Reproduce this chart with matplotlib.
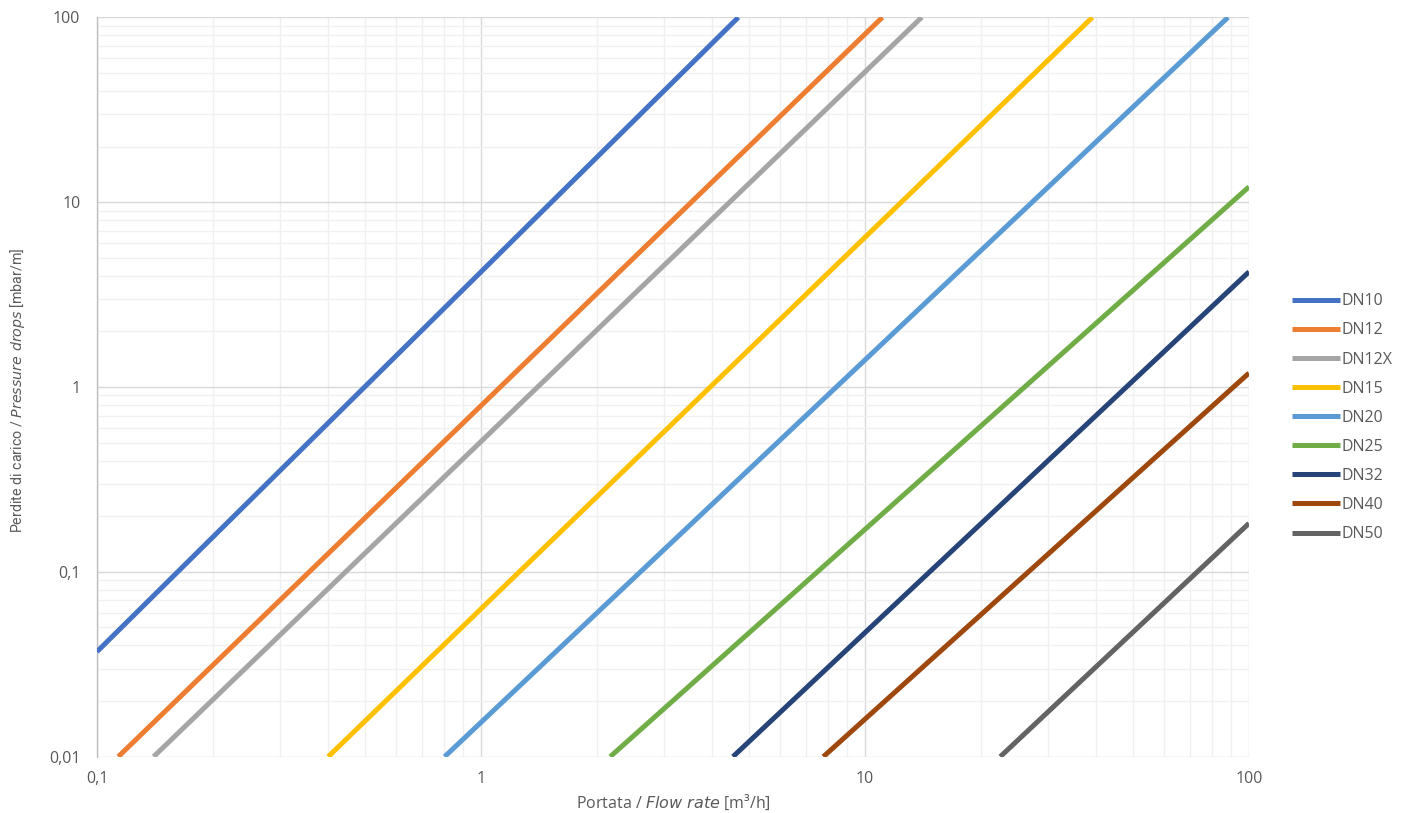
import matplotlib
matplotlib.use("Agg")
import matplotlib.pyplot as plt
from matplotlib import font_manager
from matplotlib.ticker import LogLocator, FixedLocator, NullFormatter

# --- DATA (points where each line enters/leaves the plot) ---
series_names = ["DN10", "DN12", "DN12X", "DN15", "DN20", "DN25", "DN32", "DN40", "DN50"]

flow_dn10 = [0.1, 4.68]
dp_dn10 = [0.037, 100]
flow_dn12 = [0.1136, 11.1]
dp_dn12 = [0.01, 100]
flow_dn12x = [0.1404, 14.05]
dp_dn12x = [0.01, 100]
flow_dn15 = [0.400, 39.1]
dp_dn15 = [0.01, 100]
flow_dn20 = [0.804, 88.2]
dp_dn20 = [0.01, 100]
flow_dn25 = [2.17, 100]
dp_dn25 = [0.01, 12.1]
flow_dn32 = [4.53, 100]
dp_dn32 = [0.01, 4.2]
flow_dn40 = [7.79, 100]
dp_dn40 = [0.01, 1.19]
flow_dn50 = [22.5, 100]
dp_dn50 = [0.01, 0.183]

x_ticks = [0.1, 1, 10, 100]
x_ticklabels = ["0,1", "1", "10", "100"]
y_ticks = [0.01, 0.1, 1, 10, 100]
y_ticklabels = ["0,01", "0,1", "1", "10", "100"]

colors = ["#4472C4", "#ED7D31", "#A5A5A5", "#FFC000", "#5B9BD5",
          "#70AD47", "#264478", "#9E480E", "#636363"]

flows = [flow_dn10, flow_dn12, flow_dn12x, flow_dn15, flow_dn20,
         flow_dn25, flow_dn32, flow_dn40, flow_dn50]
drops = [dp_dn10, dp_dn12, dp_dn12x, dp_dn15, dp_dn20,
         dp_dn25, dp_dn32, dp_dn40, dp_dn50]

# fonts
installed = {f.name for f in font_manager.fontManager.ttflist}
base_font = "Open Sans" if "Open Sans" in installed else "DejaVu Sans"
if "Liberation Sans Narrow" in installed:
    narrow_font = "Liberation Sans Narrow"
elif "Roboto" in installed:
    narrow_font = "Roboto"
else:
    narrow_font = base_font
plt.rcParams["font.family"] = [base_font, "DejaVu Sans"]

text_col = "#595959"

fig = plt.figure(figsize=(14.08, 8.13), dpi=100)
ax = fig.add_axes([97 / 1408, 1 - 756.7 / 813, (1249 - 97) / 1408, (756.7 - 17.3) / 813])

for name, q, dp, c in zip(series_names, flows, drops, colors):
    ax.plot(q, dp, color=c, lw=3.6, label=name, solid_capstyle="butt", zorder=3)

ax.set_xscale("log")
ax.set_yscale("log")
ax.set_xlim(0.1, 100)
ax.set_ylim(0.01, 100)

ax.xaxis.set_major_locator(FixedLocator(x_ticks))
ax.set_xticklabels(x_ticklabels)
ax.yaxis.set_major_locator(FixedLocator(y_ticks))
ax.set_yticklabels(y_ticklabels)
ax.xaxis.set_minor_locator(LogLocator(base=10, subs=range(2, 10)))
ax.yaxis.set_minor_locator(LogLocator(base=10, subs=range(2, 10)))
ax.xaxis.set_minor_formatter(NullFormatter())
ax.yaxis.set_minor_formatter(NullFormatter())

ax.grid(True, which="major", color="#d9d9d9", lw=1.0, zorder=1)
ax.grid(True, which="minor", color="#f0f0f0", lw=1.0, zorder=0)
ax.tick_params(which="both", length=0, colors=text_col, labelsize=11.5)
ax.tick_params(axis="x", pad=10)
ax.tick_params(axis="y", pad=12)

for s in ["top", "right", "bottom"]:
    ax.spines[s].set_visible(False)
ax.spines["left"].set_color("#bfbfbf")
ax.spines["left"].set_linewidth(1.0)

# axis titles placed in figure coords to stay inside the canvas
fig.text(673 / 1408, 1 - 802 / 813, "Portata / $\\it{Flow\\ rate}$ [m³/h]",
         color=text_col, fontsize=11.5, ha="center", va="center")
fig.text(18 / 1408, 1 - 390 / 813, "Perdite di carico / $\\it{Pressure\\ drops}$ [mbar/m]",
         color=text_col, fontsize=10.3, family=narrow_font, rotation=90,
         ha="center", va="center")

leg = fig.legend(loc="upper left", bbox_to_anchor=(1286 / 1408, 1 - 287 / 813),
                 frameon=False, fontsize=11.5, handlelength=3.0, handletextpad=0.1,
                 labelspacing=0.82, borderaxespad=0)
for t in leg.get_texts():
    t.set_color(text_col)

fig.savefig("out.png", dpi=100)
